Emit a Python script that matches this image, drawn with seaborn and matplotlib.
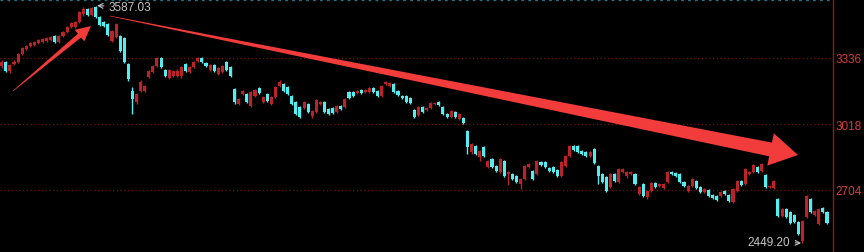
import numpy as np
import pandas as pd
import matplotlib
matplotlib.use("Agg")
import matplotlib.pyplot as plt
import seaborn as sns
from matplotlib.patches import Polygon
from matplotlib.lines import Line2D

# ---------------- data (daily OHLC) ----------------
opens = [3298, 3317, 3274, 3307, 3317, 3355, 3379, 3393, 3398, 3408,
         3413, 3417, 3422, 3441, 3413, 3441, 3460, 3484, 3484, 3508,
         3547, 3571, 3542, 3580, 3532, 3508, 3499, 3417, 3437, 3441,
         3432, 3307, 3178, 3125, 3178, 3178, 3245, 3269, 3298, 3336,
         3279, 3240, 3250, 3250, 3250, 3307, 3269, 3293, 3322, 3336,
         3312, 3279, 3302, 3259, 3269, 3317, 3293, 3188, 3116, 3164,
         3164, 3106, 3154, 3192, 3125, 3164, 3116, 3149, 3202, 3212,
         3197, 3154, 3125, 3101, 3097, 3116, 3058, 3077, 3116, 3125,
         3092, 3097, 3077, 3106, 3101, 3173, 3173, 3168, 3183, 3173,
         3173, 3192, 3178, 3154, 3212, 3202, 3212, 3178, 3154, 3154,
         3145, 3087, 3063, 3101, 3087, 3097, 3116, 3125, 3101, 3068,
         3054, 3077, 3044, 3049, 2987, 2886, 2915, 2862, 2910, 2814,
         2852, 2819, 2790, 2843, 2781, 2781, 2771, 2733, 2757, 2814,
         2795, 2781, 2838, 2838, 2809, 2814, 2800, 2771, 2819, 2867,
         2915, 2915, 2891, 2886, 2867, 2900, 2819, 2781, 2766, 2718,
         2781, 2742, 2790, 2771, 2781, 2781, 2685, 2733, 2670, 2699,
         2737, 2723, 2714, 2742, 2790, 2785, 2781, 2742, 2699, 2723,
         2747, 2718, 2694, 2704, 2680, 2675, 2675, 2699, 2680, 2647,
         2699, 2747, 2733, 2781, 2790, 2814, 2795, 2776, 2718, 2714,
         2661, 2580, 2613, 2599, 2584, 2551, 2460, 2575, 2661, 2584,
         2541, 2618, 2599]
closes = [3317, 3274, 3302, 3317, 3355, 3384, 3393, 3408, 3413, 3422,
          3427, 3432, 3437, 3413, 3441, 3460, 3484, 3504, 3508, 3556,
          3571, 3542, 3575, 3532, 3494, 3489, 3446, 3465, 3499, 3370,
          3317, 3235, 3140, 3164, 3221, 3202, 3274, 3298, 3336, 3293,
          3250, 3279, 3274, 3274, 3293, 3274, 3293, 3317, 3336, 3317,
          3298, 3302, 3274, 3288, 3298, 3279, 3250, 3125, 3140, 3178,
          3125, 3173, 3183, 3168, 3149, 3130, 3149, 3197, 3221, 3178,
          3164, 3116, 3068, 3054, 3125, 3077, 3082, 3135, 3125, 3077,
          3068, 3073, 3106, 3092, 3140, 3145, 3154, 3178, 3168, 3183,
          3192, 3173, 3154, 3202, 3221, 3216, 3173, 3159, 3145, 3125,
          3121, 3054, 3101, 3077, 3097, 3121, 3121, 3111, 3068, 3054,
          3082, 3054, 3068, 3025, 2910, 2924, 2876, 2891, 2867, 2843,
          2814, 2795, 2852, 2771, 2790, 2757, 2742, 2757, 2819, 2829,
          2757, 2843, 2824, 2814, 2795, 2790, 2771, 2838, 2867, 2915,
          2896, 2886, 2876, 2867, 2886, 2833, 2771, 2742, 2699, 2781,
          2747, 2805, 2805, 2790, 2790, 2733, 2718, 2675, 2699, 2737,
          2718, 2733, 2733, 2790, 2781, 2771, 2742, 2723, 2723, 2757,
          2714, 2694, 2709, 2675, 2666, 2656, 2694, 2685, 2651, 2709,
          2747, 2728, 2805, 2790, 2824, 2790, 2829, 2718, 2723, 2747,
          2580, 2613, 2575, 2546, 2551, 2493, 2556, 2675, 2599, 2603,
          2613, 2599, 2546]
highs = [3326, 3322, 3307, 3326, 3360, 3389, 3398, 3413, 3417, 3427,
         3432, 3437, 3441, 3446, 3446, 3465, 3489, 3508, 3513, 3561,
         3580, 3575, 3580, 3587.03, 3537, 3513, 3504, 3470, 3504, 3446,
         3437, 3312, 3197, 3168, 3231, 3207, 3279, 3302, 3341, 3341,
         3283, 3283, 3279, 3283, 3298, 3312, 3298, 3322, 3341, 3341,
         3317, 3307, 3307, 3293, 3302, 3322, 3298, 3192, 3145, 3183,
         3168, 3178, 3188, 3197, 3154, 3168, 3154, 3202, 3231, 3216,
         3202, 3159, 3130, 3106, 3130, 3121, 3087, 3140, 3130, 3130,
         3097, 3101, 3111, 3111, 3145, 3178, 3178, 3183, 3188, 3188,
         3197, 3197, 3183, 3207, 3226, 3221, 3216, 3183, 3159, 3159,
         3149, 3092, 3106, 3106, 3101, 3125, 3125, 3130, 3106, 3073,
         3087, 3082, 3073, 3054, 2991, 2929, 2919, 2896, 2915, 2848,
         2857, 2824, 2857, 2848, 2795, 2785, 2776, 2761, 2824, 2833,
         2800, 2848, 2843, 2843, 2814, 2819, 2805, 2843, 2872, 2919,
         2919, 2919, 2896, 2891, 2891, 2905, 2824, 2785, 2771, 2785,
         2785, 2809, 2809, 2795, 2795, 2785, 2723, 2737, 2704, 2742,
         2742, 2737, 2737, 2795, 2795, 2790, 2785, 2747, 2728, 2761,
         2752, 2723, 2714, 2709, 2685, 2680, 2699, 2704, 2685, 2714,
         2752, 2752, 2809, 2795, 2829, 2819, 2833, 2781, 2728, 2752,
         2665, 2618, 2618, 2603, 2589, 2556, 2560, 2680, 2666, 2608,
         2618, 2623, 2603]
lows = [3288, 3269, 3264, 3302, 3312, 3350, 3374, 3389, 3393, 3403,
        3408, 3413, 3417, 3408, 3408, 3437, 3456, 3480, 3480, 3504,
        3537, 3537, 3537, 3528, 3489, 3484, 3441, 3413, 3432, 3365,
        3312, 3226, 3068, 3116, 3173, 3173, 3240, 3264, 3293, 3288,
        3245, 3235, 3245, 3245, 3240, 3269, 3264, 3288, 3317, 3312,
        3293, 3274, 3269, 3255, 3264, 3274, 3245, 3116, 3111, 3159,
        3121, 3101, 3149, 3164, 3121, 3125, 3111, 3145, 3197, 3173,
        3159, 3111, 3063, 3049, 3092, 3073, 3049, 3073, 3111, 3073,
        3063, 3068, 3073, 3087, 3097, 3140, 3149, 3164, 3164, 3168,
        3168, 3168, 3149, 3149, 3207, 3197, 3168, 3154, 3140, 3121,
        3116, 3049, 3058, 3073, 3082, 3092, 3111, 3106, 3063, 3049,
        3049, 3049, 3039, 3020, 2876, 2876, 2872, 2843, 2862, 2809,
        2809, 2790, 2785, 2766, 2728, 2752, 2737, 2709, 2752, 2809,
        2752, 2776, 2819, 2809, 2790, 2785, 2766, 2766, 2814, 2862,
        2891, 2881, 2872, 2862, 2862, 2829, 2733, 2737, 2694, 2714,
        2742, 2737, 2785, 2761, 2776, 2728, 2680, 2670, 2661, 2694,
        2714, 2718, 2709, 2737, 2776, 2766, 2737, 2718, 2694, 2718,
        2709, 2690, 2690, 2670, 2661, 2651, 2670, 2680, 2647, 2642,
        2694, 2723, 2728, 2776, 2785, 2785, 2790, 2714, 2714, 2709,
        2575, 2575, 2570, 2541, 2546, 2489, 2449.20, 2570, 2594, 2580,
        2536, 2594, 2541]

tick_values = [3336, 3018, 2704]
tick_labels = ["3336", "3018", "2704"]
peak_label = "3587.03"
trough_label = "2449.20"

# ---------------- styling ----------------
sns.set_theme(style="dark", rc={"axes.facecolor": "black",
                                "figure.facecolor": "black",
                                "savefig.facecolor": "black"})
plt.rcParams["font.family"] = ["Liberation Sans", "DejaVu Sans"]

UP, DOWN = sns.color_palette(["#bb2328", "#55eef0"])
GRID = "#701212"
AXIS = "#8e1b1b"
LABEL = "#d83a3a"
ARROW = "#f23b3b"
TEXT = "#c4c4c4"

df = pd.DataFrame({"open": opens, "high": highs, "low": lows, "close": closes})
df["day"] = np.arange(len(df))
df["up"] = df["close"] >= df["open"]
df["body_low"] = df[["open", "close"]].min(axis=1)
df["body_h"] = (df["close"] - df["open"]).abs()
colors = [UP if u else DOWN for u in df["up"]]

W, H = 864, 253
fig = plt.figure(figsize=(W / 100, H / 100), dpi=100)
ax = fig.add_axes([0, 0, 833 / W, 1])
ax.set_facecolor("black")

for v in tick_values:
    ax.axhline(v, color=GRID, lw=0.9, ls=(0, (1, 2)), zorder=1)

ax.vlines(df["day"], df["low"], df["high"], colors=colors, lw=1.0, zorder=2)
ax.bar(df["day"], df["body_h"], bottom=df["body_low"], width=0.75,
       color=colors, linewidth=0, zorder=3)

ax.set_xlim(-0.42, len(df) - 1 + 1.47)
ax.set_ylim(2407, 3618.5)

for s in ["left", "top", "bottom"]:
    ax.spines[s].set_visible(False)
ax.spines["right"].set_visible(True)
ax.spines["right"].set_color(AXIS)
ax.spines["right"].set_linewidth(1.0)
ax.yaxis.tick_right()
ax.set_yticks(tick_values)
ax.set_yticklabels(tick_labels, color=LABEL, fontsize=8.5)
ax.tick_params(axis="y", length=0, pad=2)
ax.set_xticks([])

# high / low labels
i_hi = int(np.argmax(df["high"]))
i_lo = int(np.argmin(df["low"]))
ax.annotate(peak_label, xy=(i_hi, df["high"][i_hi]), xytext=(13, -1.5),
            textcoords="offset pixels", ha="left", va="center",
            color=TEXT, fontsize=8.5,
            arrowprops=dict(arrowstyle="->", color=TEXT, lw=0.8,
                            shrinkA=1, shrinkB=1), zorder=5)
ax.annotate(trough_label, xy=(i_lo, df["low"][i_lo]), xytext=(-12, 1.5),
            textcoords="offset pixels", ha="right", va="center",
            color=TEXT, fontsize=8.5,
            arrowprops=dict(arrowstyle="->", color=TEXT, lw=0.8,
                            shrinkA=1, shrinkB=1), zorder=5)

# top dotted border
fig.add_artist(Line2D([0, 833 / W], [1 - 0.6 / H, 1 - 0.6 / H],
                      transform=fig.transFigure, color="#25707f",
                      lw=1.0, ls=(0, (2, 3))))


# hand-drawn style red arrows (pixel geometry, y from top)
def tapered_arrow(tail, tip, tail_w, shaft_w, head_w, head_l):
    tail = np.array(tail, float)
    tip = np.array(tip, float)
    d = tip - tail
    u = d / np.hypot(*d)
    n = np.array([-u[1], u[0]])
    base = tip - u * head_l
    pts = [tail + n * tail_w / 2, base + n * shaft_w / 2, base + n * head_w / 2,
           tip, base - n * head_w / 2, base - n * shaft_w / 2, tail - n * tail_w / 2]
    pts = [(p[0] / W, 1 - p[1] / H) for p in pts]
    fig.add_artist(Polygon(pts, closed=True, transform=fig.transFigure,
                           facecolor=ARROW, edgecolor="none", zorder=10))


tapered_arrow((13, 92), (91, 27), 0.6, 5, 15, 15)
tapered_arrow((110, 17), (798, 156), 0.6, 14, 33, 28)

fig.savefig("out.png", dpi=100, facecolor="black")
